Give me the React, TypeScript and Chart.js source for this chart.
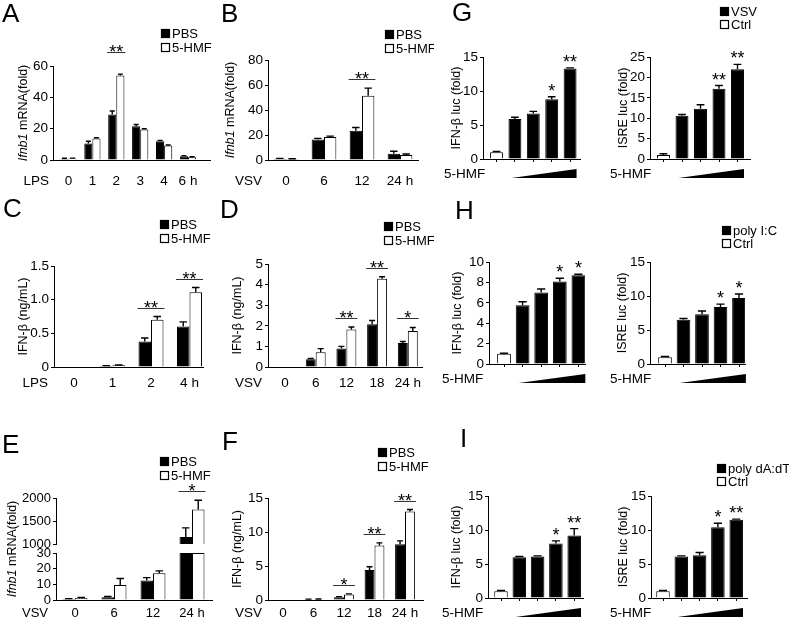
import React, { useEffect, useRef } from 'react';
import { Chart, registerables } from 'chart.js';

Chart.register(...registerables);

const FONT = '"Liberation Sans", Arial, Helvetica, sans-serif';
Chart.defaults.font.family = FONT;
Chart.defaults.color = '#000';

// ---------------- DATA ----------------
// A: LPS time course, Ifnb1 mRNA (fold)
const aCategories = ['0', '1', '2', '3', '4', '6 h'];
const aPBS = [0.8, 10.5, 29, 21.5, 12, 2.4];
const aPBSErr = [0.3, 1.5, 2.3, 1.2, 0.5, 0.4];
const aHMF = [0.9, 13.8, 54, 19.5, 9.2, 1.8];
const aHMFErr = [0.3, 0.4, 0.8, 0.4, 0.4, 0.3];
const aStars = ['', '', '**', '', '', ''];
const aTicks = [0, 20, 40, 60];

// B: VSV time course, Ifnb1 mRNA (fold)
const bCategories = ['0', '6', '12', '24 h'];
const bPBS = [1.0, 16.5, 23.5, 5.0];
const bPBSErr = [0.3, 0.8, 2.5, 2.0];
const bHMF = [0.8, 18.5, 51.5, 4.0];
const bHMFErr = [0.2, 0.6, 6.0, 0.8];
const bStars = ['', '', '**', ''];
const bTicks = [0, 20, 40, 60, 80];

// C: LPS, IFN-beta (ng/mL)
const cCategories = ['0', '1', '2', '4 h'];
const cPBS = [0, 0.015, 0.38, 0.6];
const cPBSErr = [0, 0.005, 0.05, 0.07];
const cHMF = [0, 0.025, 0.7, 1.11];
const cHMFErr = [0, 0.005, 0.05, 0.07];
const cStars = ['', '', '**', '**'];
const cTicks = [0, 0.5, 1.0, 1.5];
const cTickLabels = ['0', '0.5', '1.0', '1.5'];

// D: VSV, IFN-beta (ng/mL)
const dCategories = ['0', '6', '12', '18', '24 h'];
const dPBS = [0, 0.38, 0.9, 2.08, 1.17];
const dPBSErr = [0, 0.03, 0.1, 0.18, 0.07];
const dHMF = [0, 0.72, 1.82, 4.28, 1.75];
const dHMFErr = [0, 0.17, 0.12, 0.1, 0.17];
const dStars = ['', '', '**', '**', '*'];
const dTicks = [0, 1, 2, 3, 4, 5];

// E: VSV, Ifnb1 mRNA (fold), broken axis
const eCategories = ['0', '6', '12', '24 h'];
const ePBS = [0.6, 1.8, 12.5, 1150];
const ePBSErr = [0.3, 0.4, 1.8, 200];
const eHMF = [1.2, 9.5, 17, 1750];
const eHMFErr = [0.4, 4.2, 1.6, 200];
const eStars = ['', '', '', '*'];
const eLowTicks = [0, 10, 20, 30];
const eHighTicks = [1000, 1500, 2000];
const eBreakLow = 30;
const eBreakHigh = 1000;

// F: VSV, IFN-beta (ng/mL)
const fCategories = ['0', '6', '12', '18', '24 h'];
const fPBS = [0, 0.1, 0.4, 4.4, 8.2];
const fPBSErr = [0, 0.03, 0.1, 0.5, 0.5];
const fHMF = [0, 0.12, 0.8, 8.0, 13.0];
const fHMFErr = [0, 0.03, 0.1, 0.4, 0.3];
const fStars = ['', '', '*', '**', '**'];
const fTicks = [0, 5, 10, 15];

// G-I: reporter assays; group 0 = Ctrl, groups 1-4 = stimulus + increasing 5-HMF
const doseGroups = ['Ctrl', '1', '2', '3', '4'];

const gIfnb = [1.0, 5.9, 6.7, 8.8, 13.3];
const gIfnbErr = [0.1, 0.25, 0.3, 0.35, 0.1];
const gIfnbStars = ['', '', '', '*', '**'];
const gIfnbTicks = [0, 5, 10, 15];
const gIsre = [1.0, 10.6, 12.3, 17.2, 22.0];
const gIsreErr = [0.3, 0.3, 1.0, 0.8, 1.2];
const gIsreStars = ['', '', '', '**', '**'];
const gIsreTicks = [0, 5, 10, 15, 20, 25];

const hIfnb = [1.0, 5.75, 7.0, 8.1, 8.7];
const hIfnbErr = [0.05, 0.35, 0.35, 0.3, 0.1];
const hIfnbStars = ['', '', '', '*', '*'];
const hIfnbTicks = [0, 2, 4, 6, 8, 10];
const hIsre = [1.0, 6.5, 7.3, 8.4, 9.7];
const hIsreErr = [0.1, 0.2, 0.5, 0.4, 0.6];
const hIsreStars = ['', '', '', '*', '*'];
const hIsreTicks = [0, 5, 10, 15];

const iIfnb = [1.0, 6.0, 6.1, 8.0, 9.2];
const iIfnbErr = [0.1, 0.1, 0.1, 0.4, 1.0];
const iIfnbStars = ['', '', '', '*', '**'];
const iIfnbTicks = [0, 5, 10, 15];
const iIsre = [1.0, 6.1, 6.3, 10.4, 11.5];
const iIsreErr = [0.1, 0.1, 0.4, 0.6, 0.1];
const iIsreStars = ['', '', '', '*', '**'];
const iIsreTicks = [0, 5, 10, 15];

// ---------------- STYLE / LAYOUT ----------------
const BLACK = '#000';
const WHITE = '#fff';
const TICK_SIZE = 13.5;
const TITLE_SIZE = 12.5;
const reporterFill = doseGroups.map((_, i) => (i === 0 ? WHITE : BLACK));
const pbsLegend = [
  { label: 'PBS', fill: BLACK },
  { label: '5-HMF', fill: WHITE },
];
const mrnaTitle = [{ t: 'Ifnb1', i: true }, { t: ' mRNA(fold)' }];
const ngTitle = [{ t: 'IFN-β (ng/mL)' }];
const lucTitle = [{ t: 'IFN-β luc (fold)' }];
const isreTitle = [{ t: 'ISRE luc (fold)' }];

type Seg = { t: string; i?: boolean };
type Series = { label: string; values: (number | null)[]; errs: number[]; fill: string | string[] };
type Spec = {
  box: number[];
  plot: number[];
  c0: number;
  step: number;
  groupPct: number;
  yMin?: number;
  yMax: number;
  yTicks: number[];
  yLabels?: string[];
  tickSize?: number;
  cats: string[];
  series: Series[];
  stars?: string[];
  bracket?: boolean;
  bracketGap?: number;
  labelDy?: number;
  prefix?: string;
  prefixR?: number;
  title?: Seg[];
  titleX?: number;
  titleY?: number;
  legend?: { x: number; y: number; gap: number; items: { label: string; fill: string }[] };
  letter?: { t: string; x: number; y: number };
  dose?: { x: number };
  xMode: 'labels' | 'marks' | 'none';
};

function pairSeries(p: number[], pe: number[], h: number[], he: number[]): Series[] {
  return [
    { label: 'PBS', values: p, errs: pe, fill: BLACK },
    { label: '5-HMF', values: h, errs: he, fill: WHITE },
  ];
}

function reporterSeries(label: string, v: number[], e: number[]): Series[] {
  return [{ label, values: v, errs: e, fill: reporterFill }];
}

const specs: Spec[] = [
  {
    box: [0, 0, 214, 195], plot: [53, 66, 210, 160], c0: 68.5, step: 23.9, groupPct: 0.68,
    yMax: 60, yTicks: aTicks, cats: aCategories, labelDy: 21,
    series: pairSeries(aPBS, aPBSErr, aHMF, aHMFErr), stars: aStars, bracket: true, bracketGap: 22,
    prefix: 'LPS', prefixR: 49, title: mrnaTitle, titleX: 24,
    legend: { x: 161, y: 33, gap: 14, items: pbsLegend }, letter: { t: 'A', x: 2, y: 15 }, xMode: 'labels',
  },
  {
    box: [212, 0, 222, 195], plot: [268, 60, 418, 160], c0: 286, step: 38, groupPct: 0.65,
    yMax: 80, yTicks: bTicks, cats: bCategories, labelDy: 21,
    series: pairSeries(bPBS, bPBSErr, bHMF, bHMFErr), stars: bStars, bracket: true,
    prefix: 'VSV', prefixR: 262, title: mrnaTitle, titleX: 231,
    legend: { x: 385, y: 34, gap: 14, items: pbsLegend }, letter: { t: 'B', x: 221, y: 15 }, xMode: 'labels',
  },
  {
    box: [0, 195, 214, 200], plot: [54, 266, 203, 367], c0: 74, step: 38.5, groupPct: 0.65,
    yMax: 1.5, yTicks: cTicks, yLabels: cTickLabels, cats: cCategories, labelDy: 16,
    series: pairSeries(cPBS, cPBSErr, cHMF, cHMFErr), stars: cStars, bracket: true,
    prefix: 'LPS', prefixR: 48, title: ngTitle, titleX: 24,
    legend: { x: 160, y: 224, gap: 14, items: pbsLegend }, letter: { t: 'C', x: 3, y: 210 }, xMode: 'labels',
  },
  {
    box: [212, 195, 222, 200], plot: [268, 264, 422, 367], c0: 285, step: 30.7, groupPct: 0.65,
    yMax: 5, yTicks: dTicks, cats: dCategories, labelDy: 16,
    series: pairSeries(dPBS, dPBSErr, dHMF, dHMFErr), stars: dStars, bracket: true,
    prefix: 'VSV', prefixR: 262, title: ngTitle, titleX: 238,
    legend: { x: 384, y: 226, gap: 14, items: pbsLegend }, letter: { t: 'D', x: 220, y: 211 }, xMode: 'labels',
  },
  // E upper (broken axis, high range)
  {
    box: [0, 400, 214, 154], plot: [56, 498, 212, 544], c0: 75, step: 39, groupPct: 0.64,
    yMin: eBreakHigh, yMax: 2000, yTicks: eHighTicks, tickSize: 13, cats: eCategories,
    series: [
      { label: 'PBS', values: ePBS.map((v) => (v >= eBreakHigh ? v : null)), errs: ePBSErr, fill: BLACK },
      { label: '5-HMF', values: eHMF.map((v) => (v >= eBreakHigh ? v : null)), errs: eHMFErr, fill: WHITE },
    ],
    stars: eStars, bracket: true,
    legend: { x: 160, y: 461, gap: 14, items: pbsLegend }, letter: { t: 'E', x: 2, y: 446 }, xMode: 'none',
  },
  // E lower (low range)
  {
    box: [0, 420, 214, 198], plot: [56, 553, 212, 600], c0: 75, step: 39, groupPct: 0.64,
    yMax: eBreakLow, yTicks: eLowTicks, tickSize: 13, cats: eCategories, labelDy: 13,
    series: [
      { label: 'PBS', values: ePBS.map((v) => Math.min(v, eBreakLow)), errs: ePBS.map((v, i) => (v > eBreakLow ? 0 : ePBSErr[i])), fill: BLACK },
      { label: '5-HMF', values: eHMF.map((v) => Math.min(v, eBreakLow)), errs: eHMF.map((v, i) => (v > eBreakLow ? 0 : eHMFErr[i])), fill: WHITE },
    ],
    prefix: 'VSV', prefixR: 48, title: mrnaTitle, titleX: 13, titleY: 549, xMode: 'labels',
  },
  {
    box: [212, 420, 222, 198], plot: [268, 498, 423, 600], c0: 283, step: 30.5, groupPct: 0.65,
    yMax: 15, yTicks: fTicks, cats: fCategories, labelDy: 13,
    series: pairSeries(fPBS, fPBSErr, fHMF, fHMFErr), stars: fStars, bracket: true,
    prefix: 'VSV', prefixR: 262, title: ngTitle, titleX: 238,
    legend: { x: 378, y: 452, gap: 14, items: pbsLegend }, letter: { t: 'F', x: 222, y: 443 }, xMode: 'labels',
  },
  // G
  {
    box: [430, 0, 152, 195], plot: [483, 57, 580, 159], c0: 496.5, step: 18.4, groupPct: 0.7,
    yMax: 15, yTicks: gIfnbTicks, cats: doseGroups,
    series: reporterSeries('VSV', gIfnb, gIfnbErr), stars: gIfnbStars,
    title: lucTitle, titleX: 457, letter: { t: 'G', x: 452, y: 14 }, dose: { x: 444 }, xMode: 'marks',
  },
  {
    box: [585, 0, 204, 195], plot: [650, 57, 750, 159], c0: 663.5, step: 18.5, groupPct: 0.7,
    yMax: 25, yTicks: gIsreTicks, cats: doseGroups,
    series: reporterSeries('VSV', gIsre, gIsreErr), stars: gIsreStars,
    title: isreTitle, titleX: 624, dose: { x: 610 }, xMode: 'marks',
    legend: { x: 720, y: 11, gap: 13, items: [{ label: 'VSV', fill: BLACK }, { label: 'Ctrl', fill: WHITE }] },
  },
  // H
  {
    box: [430, 195, 157, 200], plot: [489, 262, 585, 364], c0: 504, step: 18.6, groupPct: 0.74,
    yMax: 10, yTicks: hIfnbTicks, cats: doseGroups,
    series: reporterSeries('poly I:C', hIfnb, hIfnbErr), stars: hIfnbStars,
    title: lucTitle, titleX: 458, letter: { t: 'H', x: 455, y: 212 }, dose: { x: 442 }, xMode: 'marks',
  },
  {
    box: [590, 195, 199, 200], plot: [650, 262, 745, 364], c0: 665, step: 18.5, groupPct: 0.74,
    yMax: 15, yTicks: hIsreTicks, cats: doseGroups,
    series: reporterSeries('poly I:C', hIsre, hIsreErr), stars: hIsreStars,
    title: isreTitle, titleX: 623, dose: { x: 610 }, xMode: 'marks',
    legend: { x: 722, y: 230, gap: 13, items: [{ label: 'poly I:C', fill: BLACK }, { label: 'Ctrl', fill: WHITE }] },
  },
  // I
  {
    box: [430, 420, 157, 198], plot: [488, 496, 583, 598], c0: 501, step: 18.3, groupPct: 0.74,
    yMax: 15, yTicks: iIfnbTicks, cats: doseGroups,
    series: reporterSeries('poly dA:dT', iIfnb, iIfnbErr), stars: iIfnbStars,
    title: lucTitle, titleX: 457, letter: { t: 'I', x: 460, y: 440 }, dose: { x: 442 }, xMode: 'marks',
  },
  {
    box: [590, 420, 199, 198], plot: [651, 496, 747, 598], c0: 663, step: 18.3, groupPct: 0.74,
    yMax: 15, yTicks: iIsreTicks, cats: doseGroups,
    series: reporterSeries('poly dA:dT', iIsre, iIsreErr), stars: iIsreStars,
    title: isreTitle, titleX: 624, dose: { x: 610 }, xMode: 'marks',
    legend: { x: 717, y: 468, gap: 13, items: [{ label: 'poly dA:dT', fill: BLACK }, { label: 'Ctrl', fill: WHITE }] },
  },
];

function decorPlugin(spec: Spec) {
  const [bx, by] = spec.box;
  const tickSize = spec.tickSize ?? TICK_SIZE;
  return {
    id: 'decor',
    afterDatasetsDraw(chart: any) {
      const ctx = chart.ctx as CanvasRenderingContext2D;
      const y = chart.scales.y;
      ctx.save();
      ctx.strokeStyle = BLACK;
      ctx.lineWidth = 1.4;
      spec.series.forEach((s, di) => {
        const meta = chart.getDatasetMeta(di);
        meta.data.forEach((el: any, i: number) => {
          const v = s.values[i];
          const e = s.errs[i];
          if (v == null || !e) return;
          const top = y.getPixelForValue(v + e);
          const hw = Math.max(2.5, el.width * 0.3);
          ctx.beginPath();
          ctx.moveTo(el.x, el.y);
          ctx.lineTo(el.x, top);
          ctx.moveTo(el.x - hw, top);
          ctx.lineTo(el.x + hw, top);
          ctx.stroke();
        });
      });
      ctx.restore();
    },
    afterDraw(chart: any) {
      const ctx = chart.ctx as CanvasRenderingContext2D;
      const x = chart.scales.x;
      const y = chart.scales.y;
      ctx.save();
      ctx.fillStyle = BLACK;
      ctx.strokeStyle = BLACK;

      // significance marks
      if (spec.stars) {
        spec.stars.forEach((st, i) => {
          if (!st) return;
          let top = Infinity;
          let left = Infinity;
          let right = -Infinity;
          spec.series.forEach((s, di) => {
            const v = s.values[i];
            if (v == null) return;
            const el: any = chart.getDatasetMeta(di).data[i];
            top = Math.min(top, y.getPixelForValue(v + (s.errs[i] || 0)));
            left = Math.min(left, el.x - el.width / 2);
            right = Math.max(right, el.x + el.width / 2);
          });
          if (!isFinite(top)) return;
          const cx = (left + right) / 2;
          ctx.font = `18px ${FONT}`;
          ctx.textAlign = 'center';
          ctx.textBaseline = 'alphabetic';
          if (spec.bracket) {
            const by2 = Math.round(top - (spec.bracketGap ?? 9)) + 0.5;
            ctx.lineWidth = 1;
            ctx.strokeStyle = '#333';
            ctx.beginPath();
            ctx.moveTo(left - 1, by2);
            ctx.lineTo(right + 1, by2);
            ctx.stroke();
            ctx.fillText(st, cx, by2 + 5);
          } else {
            ctx.fillText(st, cx, top);
          }
        });
      }

      // axis title (rotated, mixed italics)
      if (spec.title) {
        const tx = (spec.titleX as number) - bx;
        const ty = (spec.titleY ?? (spec.plot[1] + spec.plot[3]) / 2) - by;
        ctx.save();
        ctx.translate(tx, ty);
        ctx.rotate(-Math.PI / 2);
        ctx.textBaseline = 'middle';
        ctx.textAlign = 'left';
        const fontOf = (s: Seg) => `${s.i ? 'italic ' : ''}${TITLE_SIZE}px ${FONT}`;
        const widths = spec.title.map((s) => {
          ctx.font = fontOf(s);
          return ctx.measureText(s.t).width;
        });
        let cx = -widths.reduce((a, b) => a + b, 0) / 2;
        spec.title.forEach((s, k) => {
          ctx.font = fontOf(s);
          ctx.fillText(s.t, cx, 0);
          cx += widths[k];
        });
        ctx.restore();
      }

      // stimulus label left of the x tick labels
      if (spec.prefix) {
        ctx.font = `${tickSize}px ${FONT}`;
        ctx.textAlign = 'right';
        ctx.textBaseline = 'middle';
        ctx.fillText(spec.prefix, (spec.prefixR as number) - bx, x.top + (spec.labelDy ?? 16));
      }

      // dose label + wedge
      if (spec.dose) {
        const yc = x.top + 15;
        ctx.font = `13.5px ${FONT}`;
        ctx.textAlign = 'left';
        ctx.textBaseline = 'middle';
        ctx.fillText('5-HMF', spec.dose.x - bx, yc);
        const meta = chart.getDatasetMeta(0);
        const first: any = meta.data[1];
        const last: any = meta.data[meta.data.length - 1];
        const x1 = first.x - first.width / 2 + 3;
        const x2 = last.x + last.width / 2;
        ctx.beginPath();
        ctx.moveTo(x1, yc + 4);
        ctx.lineTo(x2, yc - 5);
        ctx.lineTo(x2, yc + 4);
        ctx.closePath();
        ctx.fill();
      }

      // legend
      if (spec.legend) {
        const L = spec.legend;
        ctx.font = `13px ${FONT}`;
        ctx.textAlign = 'left';
        ctx.textBaseline = 'middle';
        ctx.lineWidth = 1.2;
        L.items.forEach((it, k) => {
          const ly = L.y + k * L.gap - by;
          const lx = L.x - bx;
          ctx.fillStyle = it.fill;
          ctx.fillRect(lx, ly - 4, 9, 9);
          ctx.strokeStyle = BLACK;
          ctx.strokeRect(lx + 0.5, ly - 3.5, 8, 8);
          ctx.fillStyle = BLACK;
          ctx.fillText(it.label, lx + 11, ly + 1);
        });
      }

      // panel letter
      if (spec.letter) {
        ctx.font = `26px ${FONT}`;
        ctx.textAlign = 'left';
        ctx.textBaseline = 'middle';
        ctx.fillStyle = BLACK;
        ctx.fillText(spec.letter.t, spec.letter.x - bx, spec.letter.y - by);
      }
      ctx.restore();
    },
  };
}

function buildConfig(spec: Spec): any {
  const [bx, by, bw, bh] = spec.box;
  const [axL, topPx, axR, zeroPx] = spec.plot;
  const yw = axL - bx;
  const padTop = topPx - by;
  const padRight = bx + bw - axR;
  const xh = by + bh - zeroPx;
  const xmin = (axL - spec.c0) / spec.step;
  const xmax = (axR - spec.c0) / spec.step;
  const yLabels = spec.yLabels ?? spec.yTicks.map((v) => String(v));
  const tickSize = spec.tickSize ?? TICK_SIZE;
  const labelDy = spec.labelDy ?? 16;

  const datasets = spec.series.map((s) => ({
    label: s.label,
    data: s.values.map((v, i) => ({ x: i, y: v })),
    backgroundColor: s.fill,
    borderColor: BLACK,
    borderWidth: 1,
    barPercentage: 1,
    categoryPercentage: spec.groupPct,
  }));

  return {
    type: 'bar',
    data: { datasets },
    options: {
      responsive: false,
      maintainAspectRatio: false,
      animation: false,
      devicePixelRatio: 1,
      events: [],
      layout: { padding: { left: 0, top: padTop, right: padRight, bottom: 0 } },
      plugins: { legend: { display: false }, tooltip: { enabled: false }, title: { display: false } },
      scales: {
        x: {
          type: 'linear',
          min: xmin,
          max: xmax,
          offset: false,
          grid: {
            display: spec.xMode === 'marks',
            drawOnChartArea: false,
            drawTicks: spec.xMode === 'marks',
            tickLength: 3,
            color: BLACK,
            offset: false,
          },
          border: { display: spec.xMode !== 'none', color: BLACK, width: 1 },
          ticks: {
            display: spec.xMode === 'labels',
            autoSkip: false,
            maxRotation: 0,
            minRotation: 0,
            padding: labelDy - 0.6 * tickSize,
            font: { size: tickSize, family: FONT },
            color: BLACK,
            callback: (v: number) => spec.cats[Math.round(v)] ?? '',
          },
          afterBuildTicks: (s: any) => {
            s.ticks = spec.cats.map((_, i) => ({ value: i }));
          },
          afterFit: (s: any) => {
            s.height = xh;
          },
        },
        y: {
          type: 'linear',
          min: spec.yMin ?? 0,
          max: spec.yMax,
          beginAtZero: false,
          grid: { display: true, drawOnChartArea: false, drawTicks: true, tickLength: 3, color: BLACK },
          border: { display: true, color: BLACK, width: 1 },
          ticks: {
            autoSkip: false,
            padding: 2,
            font: { size: tickSize, family: FONT },
            color: BLACK,
            callback: (v: number) => {
              const k = spec.yTicks.indexOf(v);
              return k >= 0 ? yLabels[k] : '';
            },
          },
          afterBuildTicks: (s: any) => {
            s.ticks = spec.yTicks.map((v) => ({ value: v }));
          },
          afterFit: (s: any) => {
            s.width = yw;
          },
        },
      },
    },
    plugins: [decorPlugin(spec)],
  };
}

function ChartPanel({ spec }: { spec: Spec }) {
  const ref = useRef<HTMLCanvasElement>(null);
  useEffect(() => {
    const chart = new Chart(ref.current as HTMLCanvasElement, buildConfig(spec));
    return () => chart.destroy();
  }, [spec]);
  const [bx, by, bw, bh] = spec.box;
  return (
    <canvas
      ref={ref}
      width={bw}
      height={bh}
      style={{ position: 'absolute', left: bx, top: by, width: bw, height: bh }}
    />
  );
}

export default function App() {
  return (
    <div
      style={{
        position: 'absolute',
        left: 0,
        top: 0,
        width: 789,
        height: 618,
        background: '#fff',
        overflow: 'hidden',
      }}
    >
      {specs.map((s, k) => (
        <ChartPanel key={k} spec={s} />
      ))}
    </div>
  );
}
